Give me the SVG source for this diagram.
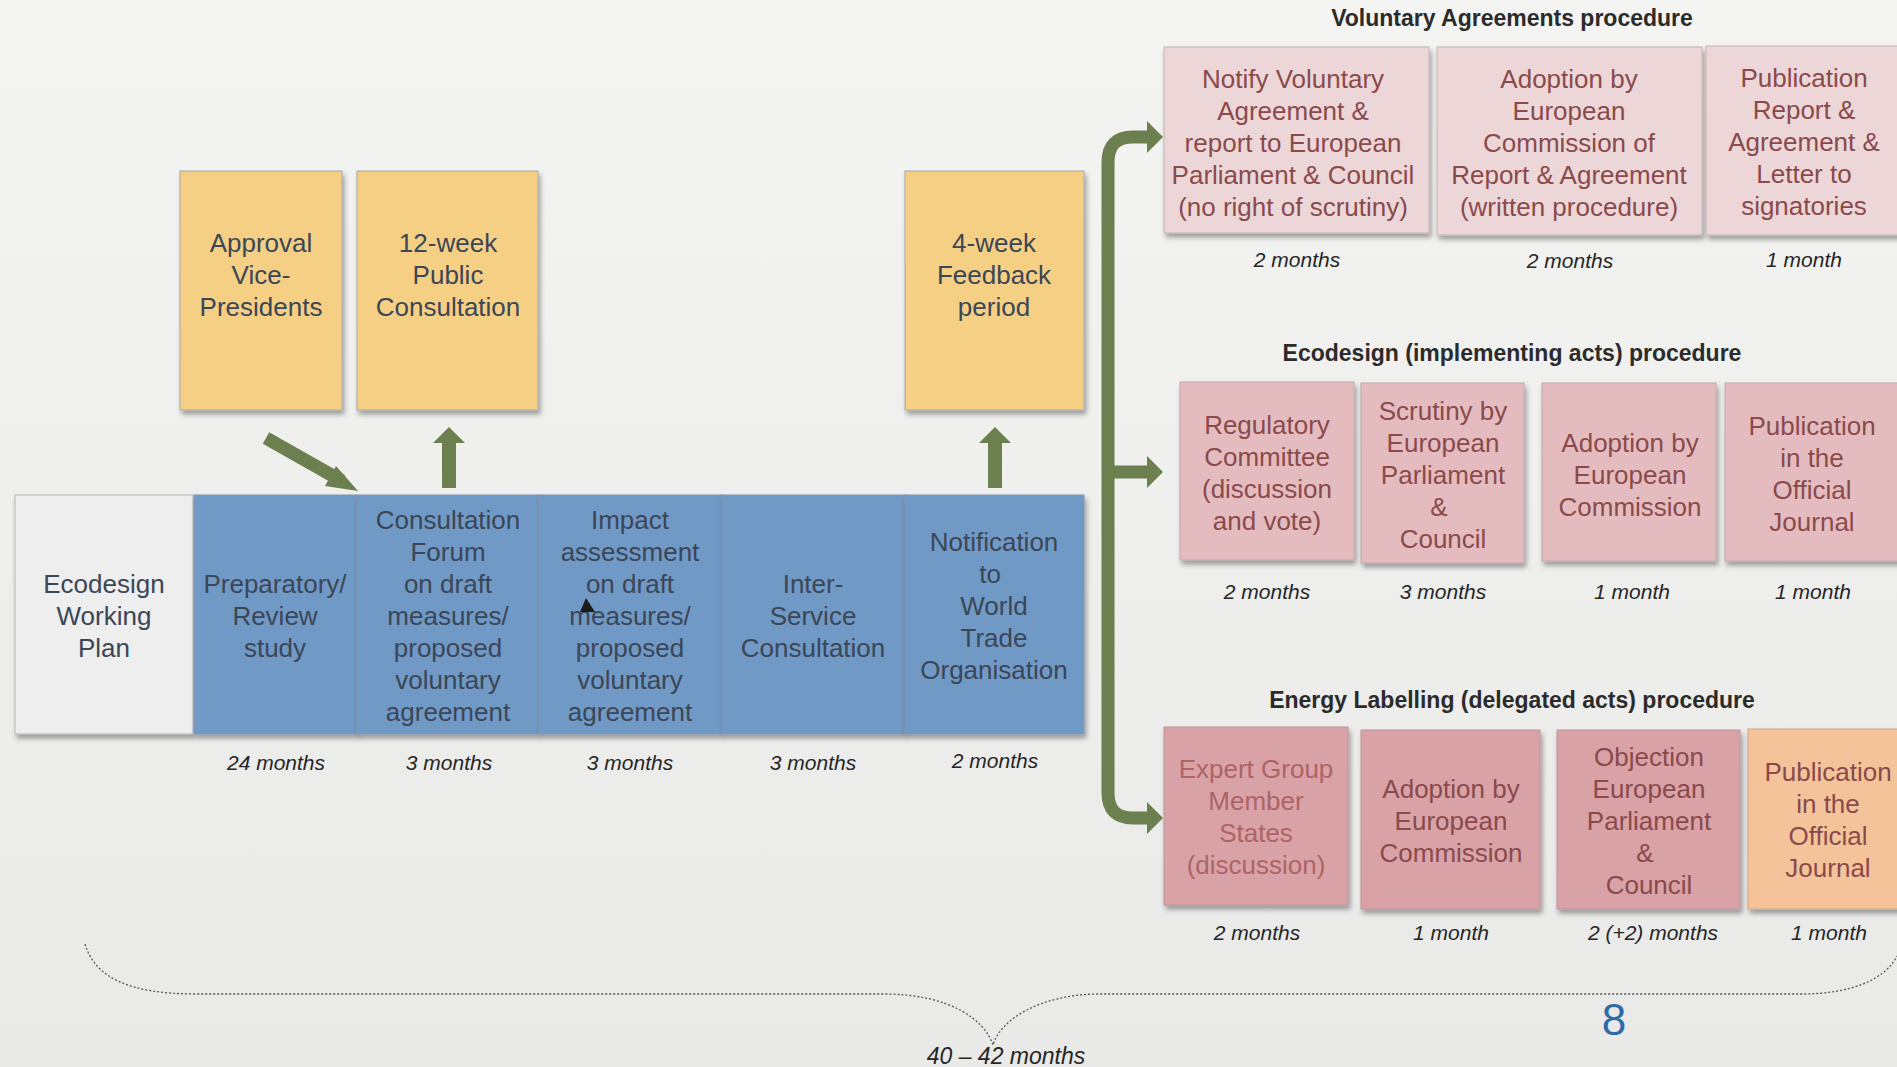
<svg xmlns="http://www.w3.org/2000/svg" width="1897" height="1067" viewBox="0 0 1897 1067">
<defs>
<linearGradient id="bg" x1="0" y1="0" x2="0" y2="1">
<stop offset="0" stop-color="#f4f4f3"/>
<stop offset="1" stop-color="#e9e9e8"/>
</linearGradient>
<filter id="sh" x="-10%" y="-10%" width="125%" height="125%">
<feDropShadow dx="2" dy="4" stdDeviation="2.5" flood-color="#000" flood-opacity="0.35"/>
</filter>
</defs>
<style>
.box{stroke:#a8a8a8;stroke-width:1;filter:url(#sh)}
.yel{fill:#f5cf84}
.blu{fill:#7099c6;stroke:#8196ae}
.gry{fill:#eeeeee;stroke:#b5b5b5}
.va{fill:#edd6d7;stroke:#c4b3b4}
.ec{fill:#e4bcbf;stroke:#c2a6a8}
.el{fill:#d9a2a6;stroke:#bf9497}
.or{fill:#f4c39a;stroke:#c9a888}
.t{font-family:"Liberation Sans",Arial,sans-serif;font-size:26px;text-anchor:middle;fill:#3b4656}
.tp{fill:#8a4a4c}
.tl{fill:#ad6466}
.d{font-family:"Liberation Sans",Arial,sans-serif;font-size:21px;font-style:italic;text-anchor:middle;fill:#262626}
.h{font-family:"Liberation Sans",Arial,sans-serif;font-size:23px;font-weight:bold;text-anchor:middle;fill:#2b2b2b}
.g{fill:#6c7f4e}
.gl{fill:none;stroke:#6c7f4e;stroke-width:13}
.brace{fill:none;stroke:#555;stroke-width:1.3;stroke-dasharray:2 2}
</style>
<rect x="0" y="0" width="1897" height="1067" fill="url(#bg)"/>

<!-- top yellow boxes -->
<g id="approval">
<rect class="box yel" x="180" y="171" width="162" height="239"/>
<text class="t"><tspan x="261" y="252">Approval</tspan><tspan x="261" y="284">Vice-</tspan><tspan x="261" y="316">Presidents</tspan></text>
</g>
<g id="public-consultation">
<rect class="box yel" x="357" y="171" width="181" height="239"/>
<text class="t"><tspan x="448" y="252">12-week</tspan><tspan x="448" y="284">Public</tspan><tspan x="448" y="316">Consultation</tspan></text>
</g>
<g id="feedback">
<rect class="box yel" x="905" y="171" width="179" height="239"/>
<text class="t"><tspan x="994" y="252">4-week</tspan><tspan x="994" y="284">Feedback</tspan><tspan x="994" y="316">period</tspan></text>
</g>

<!-- main row -->
<g id="working-plan">
<rect class="box gry" x="15" y="495" width="178" height="239"/>
<text class="t"><tspan x="104" y="593">Ecodesign</tspan><tspan x="104" y="625">Working</tspan><tspan x="104" y="657">Plan</tspan></text>
</g>
<g id="preparatory">
<rect class="box blu" x="194" y="495" width="163" height="239"/>
<text class="t"><tspan x="275" y="593">Preparatory/</tspan><tspan x="275" y="625">Review</tspan><tspan x="275" y="657">study</tspan></text>
<text class="d" x="276" y="770">24 months</text>
</g>
<g id="consultation-forum">
<rect class="box blu" x="357" y="495" width="182" height="239"/>
<text class="t"><tspan x="448" y="529">Consultation</tspan><tspan x="448" y="561">Forum</tspan><tspan x="448" y="593">on draft</tspan><tspan x="448" y="625">measures/</tspan><tspan x="448" y="657">proposed</tspan><tspan x="448" y="689">voluntary</tspan><tspan x="448" y="721">agreement</tspan></text>
<text class="d" x="449" y="770">3 months</text>
</g>
<g id="impact-assessment">
<rect class="box blu" x="539" y="495" width="183" height="239"/>
<text class="t"><tspan x="630" y="529">Impact</tspan><tspan x="630" y="561">assessment</tspan><tspan x="630" y="593">on draft</tspan><tspan x="630" y="625">measures/</tspan><tspan x="630" y="657">proposed</tspan><tspan x="630" y="689">voluntary</tspan><tspan x="630" y="721">agreement</tspan></text>
<polygon points="586,598 580,612 595,612" fill="#1a1a1a"/>
<text class="d" x="630" y="770">3 months</text>
</g>
<g id="inter-service">
<rect class="box blu" x="722" y="495" width="183" height="239"/>
<text class="t"><tspan x="813" y="593">Inter-</tspan><tspan x="813" y="625">Service</tspan><tspan x="813" y="657">Consultation</tspan></text>
<text class="d" x="813" y="770">3 months</text>
</g>
<g id="wto">
<rect class="box blu" x="905" y="495" width="179" height="239"/>
<text class="t"><tspan x="994" y="551">Notification</tspan><tspan x="990" y="583">to</tspan><tspan x="994" y="615">World</tspan><tspan x="994" y="647">Trade</tspan><tspan x="994" y="679">Organisation</tspan></text>
<text class="d" x="995" y="768">2 months</text>
</g>

<!-- Voluntary Agreements -->
<text class="h" x="1512" y="26">Voluntary Agreements procedure</text>
<g id="va-notify">
<rect class="box va" x="1164" y="47" width="265" height="186"/>
<text class="t tp"><tspan x="1293" y="88">Notify Voluntary</tspan><tspan x="1293" y="120">Agreement &amp;</tspan><tspan x="1293" y="152">report to European</tspan><tspan x="1293" y="184">Parliament &amp; Council</tspan><tspan x="1293" y="216">(no right of scrutiny)</tspan></text>
<text class="d" x="1297" y="267">2 months</text>
</g>
<g id="va-adoption">
<rect class="box va" x="1437" y="47" width="265" height="188"/>
<text class="t tp"><tspan x="1569" y="88">Adoption by</tspan><tspan x="1569" y="120">European</tspan><tspan x="1569" y="152">Commission of</tspan><tspan x="1569" y="184">Report &amp; Agreement</tspan><tspan x="1569" y="216">(written procedure)</tspan></text>
<text class="d" x="1570" y="268">2 months</text>
</g>
<g id="va-publication">
<rect class="box va" x="1706" y="46" width="210" height="189"/>
<text class="t tp"><tspan x="1804" y="87">Publication</tspan><tspan x="1804" y="119">Report &amp;</tspan><tspan x="1804" y="151">Agreement &amp;</tspan><tspan x="1804" y="183">Letter to</tspan><tspan x="1804" y="215">signatories</tspan></text>
<text class="d" x="1804" y="267">1 month</text>
</g>

<!-- Ecodesign implementing acts -->
<text class="h" x="1512" y="361">Ecodesign (implementing acts) procedure</text>
<g id="ec-committee">
<rect class="box ec" x="1180" y="382" width="174" height="178"/>
<text class="t tp"><tspan x="1267" y="434">Regulatory</tspan><tspan x="1267" y="466">Committee</tspan><tspan x="1267" y="498">(discussion</tspan><tspan x="1267" y="530">and vote)</tspan></text>
<text class="d" x="1267" y="599">2 months</text>
</g>
<g id="ec-scrutiny">
<rect class="box ec" x="1361" y="383" width="163" height="180"/>
<text class="t tp"><tspan x="1443" y="420">Scrutiny by</tspan><tspan x="1443" y="452">European</tspan><tspan x="1443" y="484">Parliament</tspan><tspan x="1439" y="516">&amp;</tspan><tspan x="1443" y="548">Council</tspan></text>
<text class="d" x="1443" y="599">3 months</text>
</g>
<g id="ec-adoption">
<rect class="box ec" x="1542" y="383" width="174" height="178"/>
<text class="t tp"><tspan x="1630" y="452">Adoption by</tspan><tspan x="1630" y="484">European</tspan><tspan x="1630" y="516">Commission</tspan></text>
<text class="d" x="1632" y="599">1 month</text>
</g>
<g id="ec-publication">
<rect class="box ec" x="1725" y="383" width="190" height="178"/>
<text class="t tp"><tspan x="1812" y="435">Publication</tspan><tspan x="1812" y="467">in the</tspan><tspan x="1812" y="499">Official</tspan><tspan x="1812" y="531">Journal</tspan></text>
<text class="d" x="1813" y="599">1 month</text>
</g>

<!-- Energy Labelling -->
<text class="h" x="1512" y="708">Energy Labelling (delegated acts) procedure</text>
<g id="el-expert">
<rect class="box el" x="1164" y="727" width="184" height="178"/>
<text class="t tl"><tspan x="1256" y="778">Expert Group</tspan><tspan x="1256" y="810">Member</tspan><tspan x="1256" y="842">States</tspan><tspan x="1256" y="874">(discussion)</tspan></text>
<text class="d" x="1257" y="940">2 months</text>
</g>
<g id="el-adoption">
<rect class="box el" x="1361" y="730" width="179" height="179"/>
<text class="t tp"><tspan x="1451" y="798">Adoption by</tspan><tspan x="1451" y="830">European</tspan><tspan x="1451" y="862">Commission</tspan></text>
<text class="d" x="1451" y="940">1 month</text>
</g>
<g id="el-objection">
<rect class="box el" x="1557" y="730" width="183" height="179"/>
<text class="t tp"><tspan x="1649" y="766">Objection</tspan><tspan x="1649" y="798">European</tspan><tspan x="1649" y="830">Parliament</tspan><tspan x="1645" y="862">&amp;</tspan><tspan x="1649" y="894">Council</tspan></text>
<text class="d" x="1653" y="940">2 (+2) months</text>
</g>
<g id="el-publication">
<rect class="box or" x="1748" y="729" width="170" height="180"/>
<text class="t tp"><tspan x="1828" y="781">Publication</tspan><tspan x="1828" y="813">in the</tspan><tspan x="1828" y="845">Official</tspan><tspan x="1828" y="877">Journal</tspan></text>
<text class="d" x="1829" y="940">1 month</text>
</g>

<!-- connectors -->
<g id="connectors">
<line class="gl" x1="266" y1="438" x2="342" y2="481"/>
<polygon class="g" points="336,466 358,491 325,486"/>
<rect class="g" x="442" y="442" width="14" height="46"/>
<polygon class="g" points="433,443 449,427 465,443"/>
<rect class="g" x="988" y="442" width="14" height="46"/>
<polygon class="g" points="979,443 995,427 1011,443"/>
<path class="gl" d="M1149 137 H1133 Q1108 137 1108 162 V793 Q1108 818 1133 818 H1149"/>
<path class="gl" d="M1108 472 H1149"/>
<polygon class="g" points="1147,121 1163,137 1147,153"/>
<polygon class="g" points="1147,456 1163,472 1147,488"/>
<polygon class="g" points="1147,802 1163,818 1147,834"/>
</g>

<g id="total-brace">
<path class="brace" d="M85 944 C95 978 130 994 196 994 H884 C950 994 985 1020 993 1045 C1000 1020 1040 994 1100 994 H1801 C1850 994 1885 980 1897 956"/>
<text class="d" x="1006" y="1064" style="font-size:23px">40 – 42 months</text>
</g>
<text x="1614" y="1035" style="font-family:'Liberation Sans',Arial,sans-serif;font-size:44px;fill:#2f6aa8;text-anchor:middle">8</text>
</svg>
